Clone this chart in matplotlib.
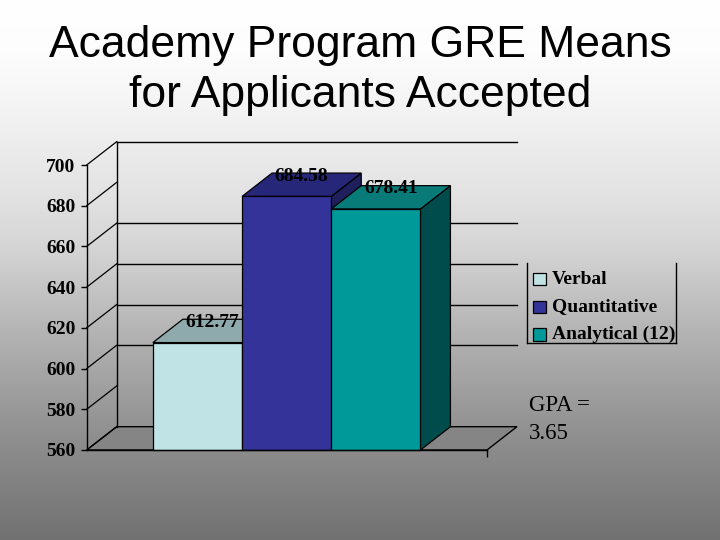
import numpy as np
import matplotlib
matplotlib.use("Agg")
import matplotlib.pyplot as plt
from matplotlib.patches import Polygon, Rectangle
from matplotlib.lines import Line2D

# ---- data ----
categories = ["Verbal", "Quantitative", "Analytical (12)"]
values = [612.77, 684.58, 678.41]
value_labels = ["612.77", "684.58", "678.41"]
y_ticks = [560, 580, 600, 620, 640, 660, 680, 700]
back_grid = [600, 620, 640, 660]
title_text = "Academy Program GRE Means\nfor Applicants Accepted"
note_lines = ["GPA =", "3.65"]

# ---- style ----
front_colors = ["#c0e3e6", "#333399", "#009999"]
top_colors = ["#8eaaad", "#27277a", "#087a78"]
side_colors = ["#7f9a9c", "#1f1f5e", "#004c4c"]
floor_color = "#858585"
W, H = 720, 540
DX = 0.336   # depth offset in x data units
DY = 11.45   # depth offset in value units
XMIN, XMAX = -1.242, 3.246
YMIN, YMAX = 560, 700

fig = plt.figure(figsize=(7.2, 5.4), dpi=100)

# background gradient
bg = fig.add_axes([0, 0, 1, 1], zorder=-10)
rows = np.arange(H)
shade = np.interp(rows, [0, 50, 100, 200, 250, 320, 430, 540],
                  [255, 253, 245, 225, 212, 184, 145, 113]) / 255.0
img = np.repeat(shade[:, None], 2, axis=1)
bg.imshow(np.dstack([img, img, img]), aspect="auto", extent=[0, 1, 0, 1],
          origin="upper")
bg.set_axis_off()


def fx(x):
    return x / W


def fy(y):
    return 1 - y / H


# main axes = front plane of the 3D chart
left_px, right_px, top_px, bot_px = 86.7, 487.0, 165.0, 450.0
ax = fig.add_axes([fx(left_px), fy(bot_px), (right_px - left_px) / W,
                   (bot_px - top_px) / H])
ax.set_xlim(XMIN, XMAX)
ax.set_ylim(YMIN, YMAX)
ax.patch.set_visible(False)
for s in ["top", "right"]:
    ax.spines[s].set_visible(False)
ax.spines["left"].set_linewidth(1.0)
ax.spines["bottom"].set_linewidth(1.0)
ax.spines["left"].set_zorder(6)
ax.spines["bottom"].set_zorder(6)
ax.set_yticks(y_ticks)
ax.set_yticklabels([str(t) for t in y_ticks], family="Liberation Serif",
                   fontweight="bold", fontsize=14)
ax.tick_params(axis="y", length=4, width=1, pad=4, colors="black")
ax.set_xticks([XMAX])
ax.set_xticklabels([""])
ax.tick_params(axis="x", length=5, width=1)

kw = dict(clip_on=False)

# floor
ax.add_patch(Polygon([(XMIN, YMIN), (XMAX, YMIN), (XMAX + DX, YMIN + DY),
                      (XMIN + DX, YMIN + DY)], closed=True,
                     facecolor=floor_color, edgecolor="black", lw=1.0,
                     zorder=1, **kw))
# side wall diagonals
for t in y_ticks:
    ax.add_line(Line2D([XMIN, XMIN + DX], [t, t + DY], color="black",
                       lw=0.9, zorder=2, **kw))
# back wall left edge and top
ax.add_line(Line2D([XMIN + DX, XMIN + DX], [YMIN + DY, YMAX + DY],
                   color="black", lw=1.0, zorder=2, **kw))
ax.add_line(Line2D([XMIN + DX, XMAX + DX], [YMAX + DY, YMAX + DY],
                   color="black", lw=1.0, zorder=2, **kw))
for g in back_grid:
    ax.add_line(Line2D([XMIN + DX, XMAX + DX], [g + DY, g + DY],
                       color="black", lw=1.0, zorder=2, **kw))

# bars
for i, v in enumerate(values):
    x0, x1 = i - 0.5, i + 0.5
    z = 3 + i
    ax.add_patch(Polygon([(x1, YMIN), (x1, v), (x1 + DX, v + DY),
                          (x1 + DX, YMIN + DY)], closed=True,
                         facecolor=side_colors[i], edgecolor="black",
                         lw=0.9, zorder=z, **kw))
    ax.add_patch(Polygon([(x0, v), (x1, v), (x1 + DX, v + DY),
                          (x0 + DX, v + DY)], closed=True,
                         facecolor=top_colors[i], edgecolor="black",
                         lw=0.9, zorder=z, **kw))
    ax.add_patch(Rectangle((x0, YMIN), x1 - x0, v - YMIN,
                           facecolor=front_colors[i], edgecolor="black",
                           lw=0.9, zorder=z, **kw))

for i, (v, lab) in enumerate(zip(values, value_labels)):
    ax.text(i + DX / 2, v + DY / 2 + 2.0, lab, ha="center", va="baseline",
            family="Liberation Serif", fontweight="bold", fontsize=14,
            color="black", zorder=10, clip_on=False)

# title
fig.text(0.5, fy(56.7), title_text.split("\n")[0], ha="center",
         va="baseline", family="Liberation Sans", fontsize=32, color="black")
fig.text(0.5, fy(106.7), title_text.split("\n")[1], ha="center",
         va="baseline", family="Liberation Sans", fontsize=32, color="black")

# legend (manual)
lx0, lx1, ly0, ly1 = 527.3, 675.7, 263.0, 343.3
for (xa, ya), (xb, yb) in [((lx0, ly0), (lx0, ly1)), ((lx0, ly1), (lx1, ly1)),
                           ((lx1, ly1), (lx1, ly0))]:
    fig.add_artist(Line2D([fx(xa), fx(xb)], [fy(ya), fy(yb)], color="black",
                          lw=1.0, transform=fig.transFigure))
row_y = [279.0, 306.7, 334.3]
for cat, col, ry in zip(categories, front_colors, row_y):
    fig.add_artist(Rectangle((fx(533.3), fy(ry + 6.2)), 12.4 / W, 12.4 / H,
                             facecolor=col, edgecolor="black", lw=0.9,
                             transform=fig.transFigure))
    fig.text(fx(551.7), fy(ry), cat, ha="left", va="center",
             family="Liberation Serif", fontweight="bold", fontsize=14,
             color="black")

# note
fig.text(fx(529.3), fy(411.0), note_lines[0], ha="left", va="baseline",
         family="Liberation Serif", fontsize=16.5, color="black")
fig.text(fx(529.3), fy(439.3), note_lines[1], ha="left", va="baseline",
         family="Liberation Serif", fontsize=16.5, color="black")

fig.savefig("out.png", dpi=100)
